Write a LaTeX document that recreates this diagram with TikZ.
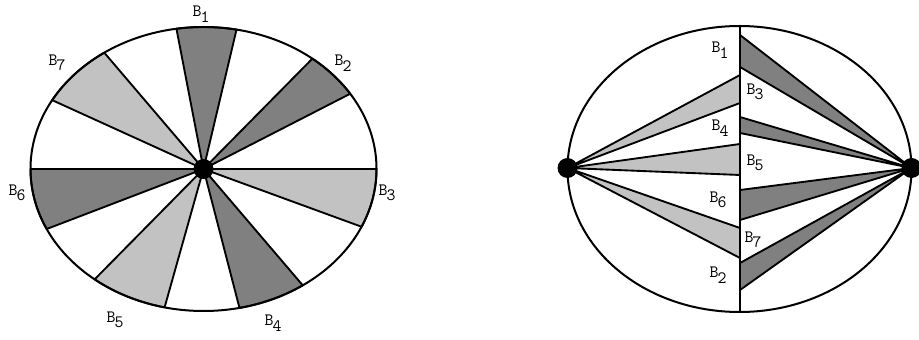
\documentclass[tikz,border=0pt]{standalone}
\usepackage{xcolor}
\usepackage{tikz}
\usetikzlibrary{positioning, calc}

\definecolor{lightwedge}{gray}{0.76}
\definecolor{darkwedge}{gray}{0.50}
\newcommand{\blab}[1]{B\kern-.05em\raisebox{-.32em}{#1}}

\begin{document}
\begin{tikzpicture}[
    x=0.75pt, y=0.75pt,
    rim/.style={draw=black, line width=1.5pt},
    wedge/.style={draw=black, line width=1.4pt, line join=round},
    hub/.style={circle, fill=black, inner sep=0pt, minimum size=15},
    lab/.style={font=\fontsize{13}{15}\selectfont\ttfamily, inner sep=0pt}
]
\useasboundingbox (0,0) rectangle (919,339);

% Left ellipse: wedges around the centre
\coordinate (cA) at (203.5,170);
\begin{scope}[shift={(cA)}]
\foreach \s/\e/\c in {79/99/darkwedge, 32/51/darkwedge, 180/205/darkwedge, 282/305/darkwedge,
                      125/151/lightwedge, 336/360/lightwedge, 231/257/lightwedge}
    \filldraw[wedge, fill=\c] (0,0) -- (\s:173 and 142)
        arc[start angle=\s, end angle=\e, x radius=173, y radius=142] -- cycle;
\draw[rim] (0,0) ellipse[x radius=173, y radius=142];
\draw[wedge] (180:173 and 142) -- (0:173 and 142);
\end{scope}
\node[hub] (hubA) at (cA) {};

% Labels, left
\node[lab] (a1) at (201,325) {\blab{1}};
\node[lab] (a2) at (343,276) {\blab{2}};
\node[lab] (a3) at (387,146) {\blab{3}};
\node[lab] (a4) at (273,16) {\blab{4}};
\node[lab] (a5) at (115,19) {\blab{5}};
\node[lab] (a6) at (17,146) {\blab{6}};
\node[lab] (a7) at (57,276) {\blab{7}};

% Right ellipse: two hubs and a vertical axis
\coordinate (cB) at (739.5,170);
\coordinate (hubL) at (567.5,171);
\coordinate (hubR) at (911.5,171);
\coordinate (axT) at (740,313);
\coordinate (axB) at (740,27);

% light wedges from the left hub
\foreach \u/\l in {264/236, 195/164, 111/81}
    \filldraw[wedge, fill=lightwedge] (hubL) -- (740,\u) -- (740,\l) -- cycle;
% dark wedges from the right hub
\foreach \u/\l in {304/272, 222/206, 149/119, 76/49}
    \filldraw[wedge, fill=darkwedge] (hubR) -- (740,\u) -- (740,\l) -- cycle;

\draw[rim] (cB) ellipse[x radius=172, y radius=143];
\draw[rim] (axT) -- (axB);
\node[hub] (dotL) at (hubL) {};
\node[hub] (dotR) at (hubR) {};

% Labels, right
\node[lab] (b1) at (720,289) {\blab{1}};
\node[lab] (b3) at (755,247) {\blab{3}};
\node[lab] (b4) at (720,211) {\blab{4}};
\node[lab] (b5) at (755,176) {\blab{5}};
\node[lab] (b6) at (718,139) {\blab{6}};
\node[lab] (b7) at (753,99) {\blab{7}};
\node[lab] (b2) at (718,64) {\blab{2}};

\end{tikzpicture}
\end{document}
